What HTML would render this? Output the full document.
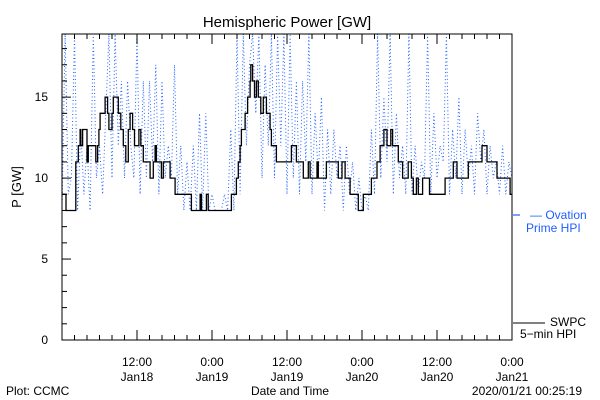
<!DOCTYPE html>
<html><head><meta charset="utf-8"><style>
body{margin:0;background:#fff}
svg{display:block;font-family:"Liberation Sans",sans-serif}
</style></head><body>
<svg id="c" width="600" height="400" viewBox="0 0 600 400">
<defs><clipPath id="pc"><rect x="62" y="34" width="450" height="306"/></clipPath></defs>
<rect width="600" height="400" fill="#fff"/>
<text x="287" y="27" font-size="15" text-anchor="middle">Hemispheric Power [GW]</text>
<text x="21" y="187" font-size="13" text-anchor="middle" transform="rotate(-90 21 187)">P [GW]</text>
<text x="290" y="395" font-size="12" text-anchor="middle">Date and Time</text>
<text x="6" y="395" font-size="12">Plot: CCMC</text>
<text x="582" y="395" font-size="12" text-anchor="end">2020/01/21 00:25:19</text>
<g>
<line x1="513" y1="215" x2="520" y2="215" stroke="#1f5fff" stroke-width="1.2"/>
<text x="530" y="219" font-size="12" fill="#1f5fff">— Ovation</text>
<text x="526" y="232" font-size="12" fill="#1f5fff">Prime HPI</text>
</g>
<g>
<line x1="513" y1="323" x2="545" y2="323" stroke="#000" stroke-width="1"/>
<text x="550" y="326" font-size="12">SWPC</text>
<text x="520" y="338" font-size="12">5−min HPI</text>
</g>
<g id="plot"></g>
</svg>
<script>
const blueValues=[8,19,9,10,19,8,13,9,12,8,19,10,12,9,14,19,10,19,12,16,10,16,12,10,19,9,16,10,16,11,17,9,16,10,12,10,17,9,12,8,11,8,12,8,14,8,14,8,9,8,8,8,9,8,13,8,19,9,19,12,17,19,14,19,10,17,12,19,10,19,12,19,9,19,10,16,9,16,11,19,9,14,10,15,8,13,9,13,10,12,8,12,9,11,8,10,8,9,8,13,9,19,10,15,11,19,9,14,10,12,9,19,9,12,9,11,10,19,9,14,10,12,11,19,9,13,10,15,9,13,10,12,9,14,11,13,9,12,10,11,9,12,9,11,10,10,9];
const blackHours=[0,0.64,2.2,2.6,2.9,3.0,3.3,4.0,4.2,5.4,5.7,5.9,6.1,6.9,7.3,7.5,8.0,8.2,9.0,9.4,9.8,10.2,10.6,10.9,11.3,11.6,12.3,12.6,13.0,14.1,14.6,14.9,15.1,15.9,16.2,17.3,18.1,20.7,22.1,22.3,23.1,23.4,27.1,27.9,28.2,28.5,28.7,29.3,29.7,30.1,30.2,30.5,30.8,31.1,31.4,31.8,32.2,32.7,33.3,33.5,34.3,36.7,37.5,38.6,39.4,39.7,40.8,41.0,42.3,44.2,44.8,45.3,46.1,47.4,48.2,49.5,50.4,50.9,51.5,52.0,52.6,52.9,53.8,54.5,55.4,55.9,56.2,56.7,57.0,57.7,58.8,61.3,62.6,63.2,65.0,67.2,68.0,69.6,71.7];
const blackValues=[9,8,11,12,13,12,13,11,12,11,12,13,14,15,14,13,14,15,14,13,12,11,13,14,13,12,13,12,11,10,11,12,11,10,11,10,9,8,9,8,9,8,9,10,11,12,13,14,15,16,17,16,15,16,15,14,15,14,13,12,11,12,11,10,11,10,11,10,11,10,11,10,9,8,9,10,11,12,13,12,13,12,11,10,11,10,9,10,9,10,9,10,11,10,11,12,11,10,9];
const yTickLabels=["0","5","10","15"];
const xTickLabels=[["12:00","Jan18"],["0:00","Jan19"],["12:00","Jan19"],["0:00","Jan20"],["12:00","Jan20"],["0:00","Jan21"]];
const X0=62,X1=512,Y0=340,Y1=34,TMAX=72,VMAX=18.9;
const xs=h=>X0+(h/TMAX)*(X1-X0);
const ys=v=>Y0-(Math.min(v,VMAX)/VMAX)*(Y0-Y1);
const NS="http://www.w3.org/2000/svg";
const g=document.getElementById('plot');
function mk(t,a){const e=document.createElementNS(NS,t);for(const k in a)e.setAttribute(k,a[k]);g.appendChild(e);return e;}
let bp=blueValues.map((v,i)=>xs(i*0.5).toFixed(1)+","+ys(v).toFixed(1)).join(" ");
const bl=mk('polyline',{points:bp,fill:"none",stroke:"#1f5fff","stroke-width":1,"stroke-dasharray":"1 2.5","clip-path":"url(#pc)"});


let pts=[];
for(let i=0;i<blackHours.length;i++){
  const x=xs(blackHours[i]);
  if(i>0)pts.push(x.toFixed(1)+","+ys(blackValues[i-1]).toFixed(1));
  pts.push(x.toFixed(1)+","+ys(blackValues[i]).toFixed(1));
}
pts.push(xs(TMAX).toFixed(1)+","+ys(blackValues[blackValues.length-1]).toFixed(1));
const kl=mk('polyline',{points:pts.join(" "),fill:"none",stroke:"#000","stroke-width":1.3,"clip-path":"url(#pc)"});


const fr=mk('rect',{x:X0,y:Y1,width:X1-X0,height:Y0-Y1,fill:"none",stroke:"#000","stroke-width":1});


for(let v=0;v<=18;v++){
  const y=ys(v),len=v%5===0?9:5;
  const t=mk('line',{x1:X0,y1:y,x2:X0+len,y2:y,stroke:"#000"});
  
  
}
yTickLabels.forEach((s,i)=>{
  const t=mk('text',{x:X0-14,y:ys(i*5)+4,"font-size":12,"text-anchor":"end"});
  t.textContent=s;
  
  
});
for(let h=0;h<=TMAX;h+=2){
  const x=xs(h),len=h%12===0?10:5;
  const t=mk('line',{x1:x,y1:Y0,x2:x,y2:Y0-len,stroke:"#000"});
  
  
  const t2=mk('line',{x1:x,y1:Y1,x2:x,y2:Y1+len,stroke:"#000"});
  
  
}
xTickLabels.forEach((l,i)=>{
  const x=xs(12+i*12);
  const t=mk('text',{x:x,y:366,"font-size":12,"text-anchor":"middle"});
  t.textContent=l[0];
  
  
  const t2=mk('text',{x:x,y:381,"font-size":12,"text-anchor":"middle"});
  t2.textContent=l[1];
  
  
});
</script>
</body></html>
